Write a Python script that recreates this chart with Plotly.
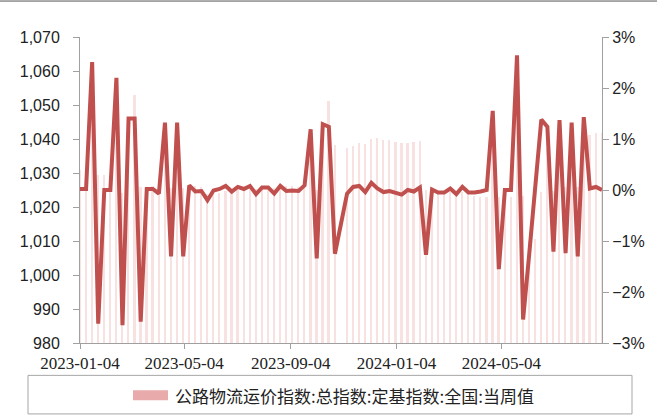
import plotly.graph_objects as go
import pandas as pd

# Weekly dates (2023-01-04 onward); index 43 is a missing week (holiday)
start_date = "2023-01-04"
n_weeks = 87
dates = pd.date_range(start_date, periods=n_weeks, freq="7D")

# 公路物流运价指数 (left axis)
index_values = [
    1031.0, 1031.2, 1057.0, 1029.4, 1029.4, 1029.4, 1052.0, 1024.1, 1038.4, 1053.0,
    1025.8, 1026.0, 1026.2, 1025.5, 1039.0, 1025.5, 1039.0, 1025.5, 1026.4, 1026.1,
    1025.9, 1023.9, 1023.8, 1024.0, 1024.8, 1024.5, 1025.1, 1025.3, 1026.1, 1025.3,
    1025.8, 1026.3, 1025.6, 1026.4, 1026.2, 1026.1, 1025.9, 1026.8, 1039.0, 1025.1,
    1038.3, 1051.2, 1038.1, None, 1037.4, 1038.0, 1038.8, 1038.4, 1039.9, 1040.2,
    1039.8, 1039.6, 1039.2, 1038.8, 1038.9, 1039.0, 1039.4, 1025.1, 1025.2, 1024.7,
    1024.2, 1024.5, 1023.7, 1024.3, 1023.8, 1023.3, 1023.0, 1023.0, 1038.9, 1022.8,
    1022.8, 1022.8, 1049.8, 1023.1, 1010.1, 1010.6, 1024.5, 1037.2, 1024.7, 1038.8,
    1025.9, 1039.4, 1025.9, 1040.6, 1041.2, 1041.8, 1041.8,
]

# Week-over-week change, % (right axis)
wow_change_pct = [
    0.02, 0.02, 2.51, -2.62, 0.00, 0.00, 2.20, -2.65, 1.40, 1.40,
    -2.58, 0.02, 0.02, -0.07, 1.32, -1.30, 1.32, -1.30, 0.09, -0.03,
    -0.02, -0.20, -0.01, 0.02, 0.08, -0.03, 0.06, 0.02, 0.08, -0.08,
    0.05, 0.05, -0.07, 0.08, -0.02, -0.01, -0.02, 0.09, 1.19, -1.34,
    1.29, 1.24, -1.25, None, -0.07, 0.06, 0.08, -0.04, 0.14, 0.03,
    -0.04, -0.02, -0.06, -0.09, 0.00, -0.03, 0.05, -1.27, 0.01, -0.05,
    -0.05, 0.03, -0.08, 0.06, -0.05, -0.05, -0.03, 0.00, 1.55, -1.55,
    0.00, 0.00, 2.64, -2.54, -1.27, 0.05, 1.38, 1.24, -1.21, 1.37,
    -1.24, 1.32, -1.30, 1.43, 0.03, 0.06, 0.00,
]

x_tick_labels = ["2023-01-04", "2023-05-04", "2023-09-04", "2024-01-04", "2024-05-04"]
legend_label = "公路物流运价指数:总指数:定基指数:全国:当周值"

bar_color = "#E9AAAC"
line_color = "#C0504D"
axis_color = "#A0A0A0"
num_font = dict(family="Liberation Sans", size=16, color="#222222")
date_font = dict(family="Liberation Serif", size=17, color="#222222")

fig = go.Figure()
fig.add_trace(go.Bar(
    x=dates, y=index_values, name=legend_label,
    marker=dict(color=bar_color, line=dict(width=0)), opacity=0.35,
    width=2 * 86400000, showlegend=False,
))
fig.add_trace(go.Scatter(
    x=dates, y=[None if v is None else v / 100 for v in wow_change_pct],
    yaxis="y2", mode="lines", connectgaps=True,
    line=dict(color=line_color, width=4), showlegend=False,
))

fig.update_layout(
    width=657, height=419,
    margin=dict(l=80, r=55, t=37, b=76, pad=0),
    paper_bgcolor="white", plot_bgcolor="white",
    bargap=0,
    xaxis=dict(
        type="date", range=["2023-01-04", "2024-08-28"],
        tickvals=x_tick_labels, ticktext=x_tick_labels,
        ticks="outside", ticklen=5, tickcolor=axis_color,
        showline=True, linecolor=axis_color, linewidth=1,
        showgrid=False, zeroline=False, tickfont=date_font,
    ),
    yaxis=dict(
        range=[980, 1070], dtick=10, tickformat=",d",
        ticks="outside", ticklen=6, tickcolor=axis_color,
        ticklabelstandoff=10,
        showline=True, linecolor=axis_color, linewidth=1,
        showgrid=False, zeroline=False, tickfont=num_font,
    ),
    yaxis2=dict(
        overlaying="y", side="right", range=[-0.03, 0.03], dtick=0.01,
        tickformat=".0%",
        ticks="outside", ticklen=6, tickcolor=axis_color,
        showline=True, linecolor=axis_color, linewidth=1,
        showgrid=False, zeroline=False, tickfont=num_font,
    ),
    showlegend=False,
)

# Legend drawn as box + swatch + text
fig.add_shape(type="rect", xref="paper", yref="paper",
              x0=(28 - 80) / 522, x1=(632 - 80) / 522,
              y0=(343.3 - 414.3) / 306.3, y1=(343.3 - 375.7) / 306.3,
              line=dict(color="#A6A6A6", width=1), fillcolor="rgba(0,0,0,0)")
fig.add_shape(type="rect", xref="paper", yref="paper",
              x0=(133 - 80) / 522, x1=(168 - 80) / 522,
              y0=(343.3 - 400.7) / 306.3, y1=(343.3 - 390.7) / 306.3,
              line=dict(width=0), fillcolor=bar_color)
fig.add_annotation(xref="paper", yref="paper",
                   x=(173 - 80) / 522, y=(343.3 - 396) / 306.3,
                   xanchor="left", yanchor="middle", showarrow=False,
                   text=legend_label,
                   font=dict(family="Noto Sans CJK SC, sans-serif", size=17, color="#222222"))
# thin top border line
fig.add_shape(type="line", xref="paper", yref="paper",
              x0=-80 / 522, x1=(657 - 80) / 522,
              y0=(343.3 - 1) / 306.3, y1=(343.3 - 1) / 306.3,
              line=dict(color="#555555", width=1))

fig.write_html(
    "out.html",
    config={"displayModeBar": False},
    post_script="document.body.style.margin='0';document.body.style.overflow='hidden';",
)
